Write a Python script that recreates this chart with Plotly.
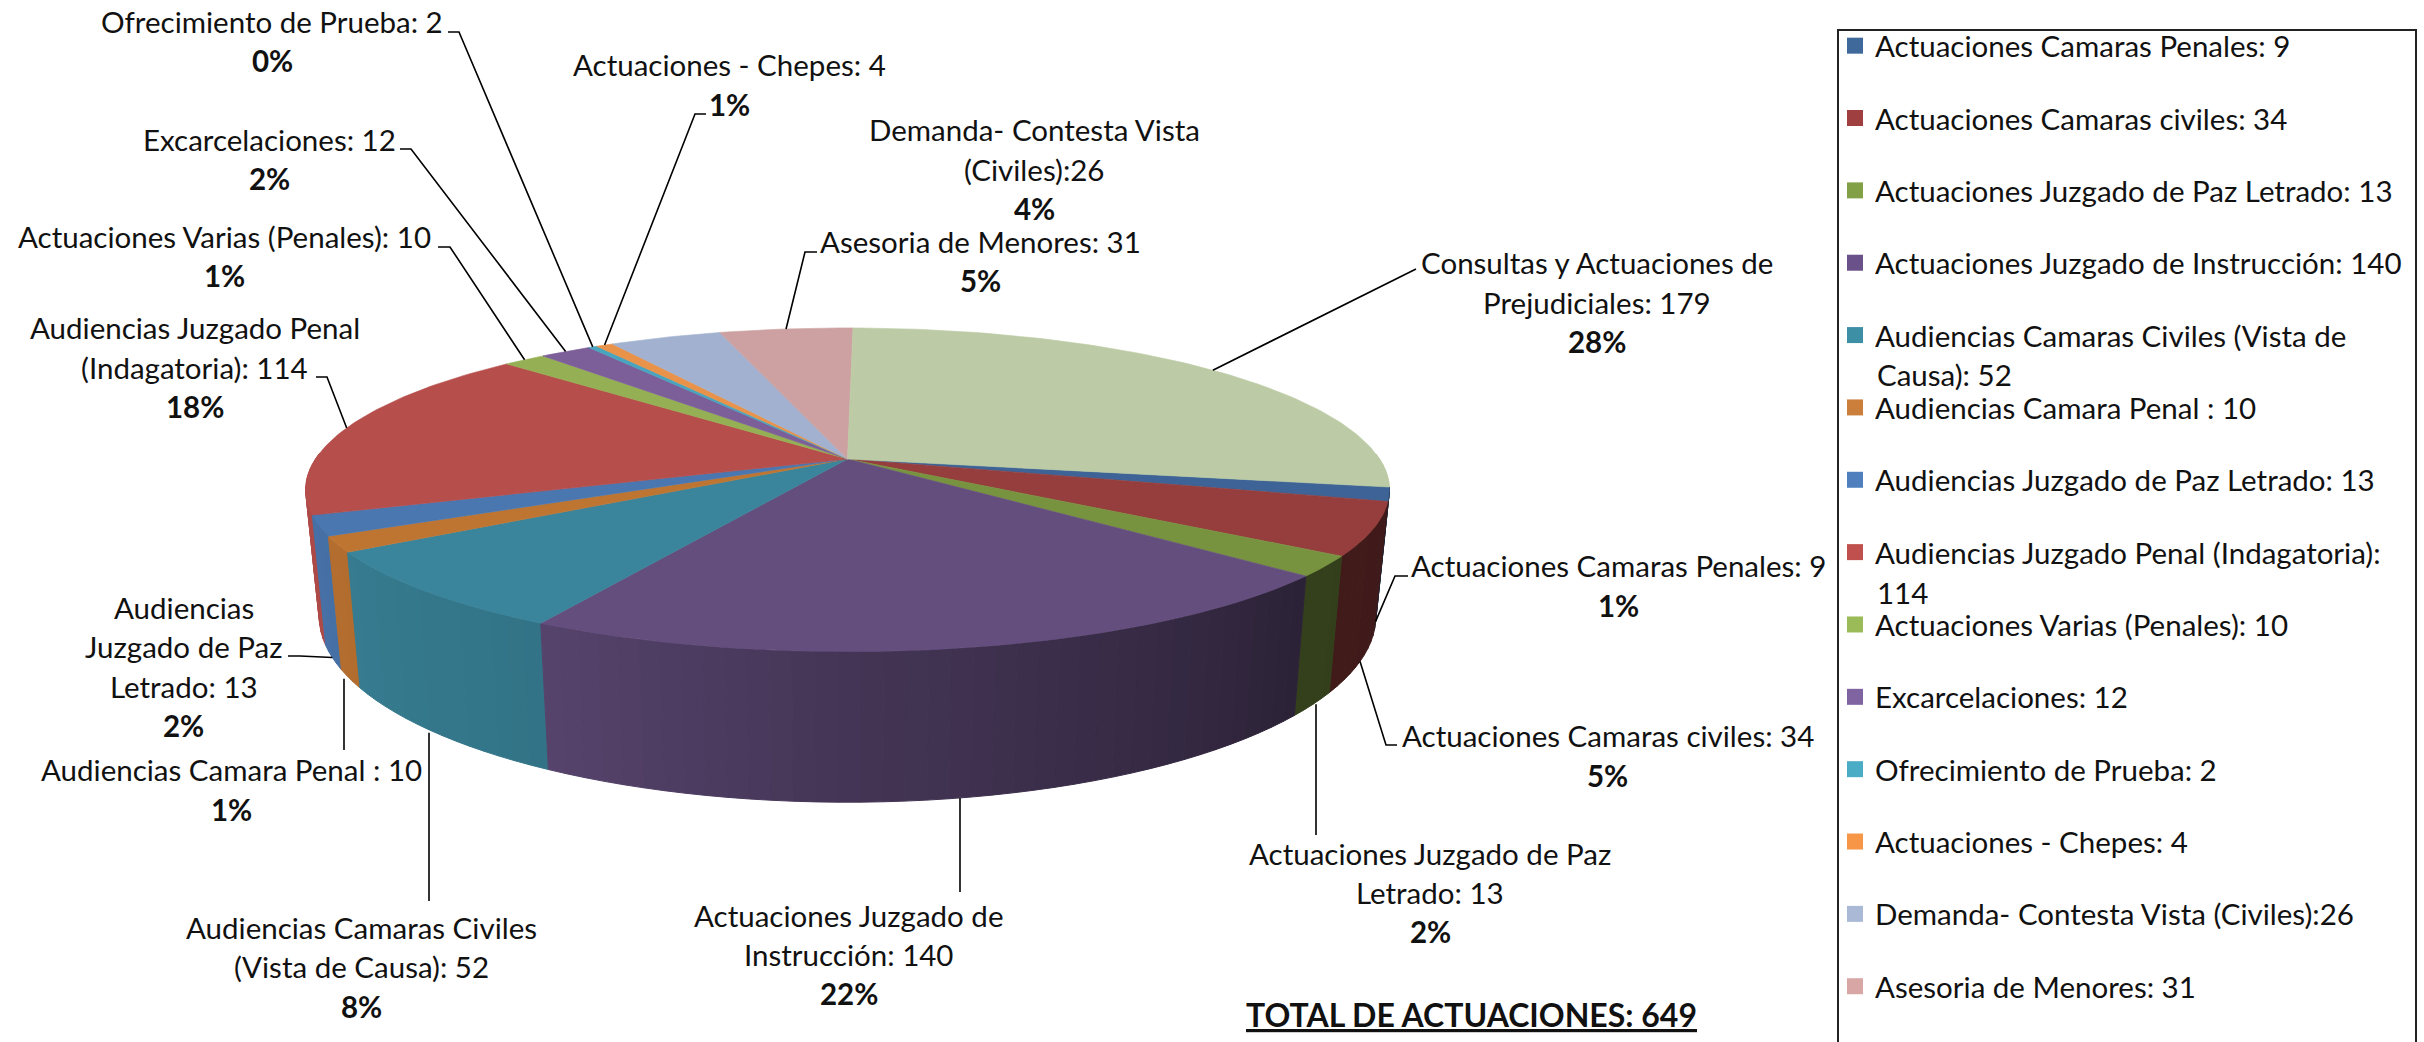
import numpy as np
import plotly.graph_objects as go

# ---------- data ----------
categories = ["Actuaciones Camaras Penales", "Actuaciones Camaras civiles", "Actuaciones Juzgado de Paz Letrado",
              "Actuaciones Juzgado de Instrucción", "Audiencias Camaras Civiles (Vista de Causa)", "Audiencias Camara Penal",
              "Audiencias Juzgado de Paz Letrado", "Audiencias Juzgado Penal (Indagatoria)", "Actuaciones Varias (Penales)",
              "Excarcelaciones", "Ofrecimiento de Prueba", "Actuaciones - Chepes", "Demanda- Contesta Vista (Civiles)",
              "Asesoria de Menores", "Consultas y Actuaciones de Prejudiciales"]
values = [9, 34, 13, 140, 52, 10, 13, 114, 10, 12, 2, 4, 26, 31, 179]
percents = ["1%", "5%", "2%", "22%", "8%", "1%", "2%", "18%", "1%", "2%", "0%", "1%", "4%", "5%", "28%"]
legend_labels = ["Actuaciones Camaras Penales: 9", "Actuaciones Camaras civiles: 34", "Actuaciones Juzgado de Paz Letrado: 13",
                 "Actuaciones Juzgado de Instrucción: 140", "Audiencias Camaras Civiles (Vista de",
                 "Audiencias Camara Penal : 10", "Audiencias Juzgado de Paz Letrado: 13",
                 "Audiencias Juzgado Penal (Indagatoria):", "Actuaciones Varias (Penales): 10", "Excarcelaciones: 12",
                 "Ofrecimiento de Prueba: 2", "Actuaciones - Chepes: 4", "Demanda- Contesta Vista (Civiles):26",
                 "Asesoria de Menores: 31"]
legend_wrapped = [("Causa): 52", 242.5), ("114", 383.5)]
total_label = "TOTAL DE ACTUACIONES: 649"

# ---------- styles ----------
top_colors = ["#3e6497", "#953e3d", "#789340", "#644e7e", "#3a859b", "#bf7532", "#4a77b0", "#b64e4b",
              "#95b054", "#7c5f98", "#47a5c0", "#e8924a", "#a1b1cf", "#cda1a1", "#bccba5"]
legend_colors = ["#3f689b", "#9f3f3f", "#82a046", "#6b5189", "#3d8fa6", "#cc7f3a", "#4f80bd", "#c0504d",
                 "#9bbb59", "#8064a2", "#4bacc6", "#f79646", "#a9b9d6", "#d7a6a5"]
FONT = "Lato"
FS = 29.5
TXT = "#111111"

# ---------- projection of the tilted disc (page pixels used as the axis units) ----------
W, H = 2424, 1042
X0, Y0, BX, AY, K, DEPTH, BOTTOM_SCALE = 847.5, 459.0, 532.0, 156.0, 0.19, 122.0, 0.975
START = -10.0


def project(t_deg, bottom=False):
    t = np.radians(t_deg)
    w = 1 + K * np.sin(t)
    x = BX * np.cos(t) / w
    y = Y0 - AY * np.sin(t) / w
    if bottom:
        return X0 + BOTTOM_SCALE * x, y + DEPTH / w
    return X0 + x, y


def shade(t_deg):
    return np.interp(t_deg, [-190, -150, -120, -90, -40, 10], [1.0, 0.93, 0.87, 0.68, 0.43, 0.42])


def darker(hex_color, f):
    r, g, b = (int(hex_color[i:i + 2], 16) for i in (1, 3, 5))
    return f"rgb({r * f:.0f},{g * f:.0f},{b * f:.0f})"


total = sum(values)
cum = np.concatenate([[0], np.cumsum(values)])
edges = START - cum / total * 360.0

fig = go.Figure()

# side wall strips, back to front
strips = []
for i, c in enumerate(top_colors):
    a, b = edges[i], edges[i + 1]
    ts = np.linspace(a, b, max(2, int((a - b) / 2) + 2))
    for t1, t2 in zip(ts[:-1], ts[1:]):
        tm = (t1 + t2) / 2
        if np.sin(np.radians(tm)) < 0.02:
            strips.append((tm, t1, t2, c))
strips.sort(key=lambda s: np.sin(np.radians(s[0])), reverse=True)
for tm, t1, t2, c in strips:
    arc = np.linspace(t1, t2, 4)
    xt, yt = project(arc)
    xb, yb = project(arc[::-1], bottom=True)
    col = darker(c, shade(tm))
    fig.add_trace(go.Scatter(x=np.r_[xt, xb, xt[0]], y=np.r_[yt, yb, yt[0]], mode="lines", fill="toself",
                             fillcolor=col, line=dict(color=col, width=1), hoverinfo="skip", showlegend=False))

# top faces
for i, c in enumerate(top_colors):
    arc = np.linspace(edges[i], edges[i + 1], max(3, int(edges[i] - edges[i + 1]) + 2))
    xt, yt = project(arc)
    fig.add_trace(go.Scatter(x=np.r_[X0, xt, X0], y=np.r_[Y0, yt, Y0], mode="lines", fill="toself",
                             fillcolor=c, line=dict(color=c, width=0.6), name=categories[i], text=f"{values[i]}",
                             hoverinfo="name+text", showlegend=False))

# leader lines: typed elbow near the label, far end on the slice's mid-angle
mids = (edges[:-1] + edges[1:]) / 2
leaders = [
    (0, [(1408, 576), (1395, 576)], True),
    (1, [(1397, 745), (1386, 745)], True),
    (2, [(1316, 835)], True),
    (3, [(960, 892)], True),
    (4, [(429, 901)], True),
    (5, [(344, 750)], True),
    (6, [(288, 656), (300, 656)], True),
    (7, [(316, 377), (327, 377)], False),
    (8, [(438, 247), (450, 247)], False),
    (9, [(400, 149), (411, 149)], False),
    (10, [(448, 32), (459, 32)], False),
    (11, [(706, 114), (695, 114)], False),
    (13, [(817, 252), (805, 252)], False),
    (14, [(1416, 269)], False),
]
for idx, pts, bottom in leaders:
    ex, ey = project(mids[idx], bottom=bottom)
    xs = [p[0] for p in pts] + [float(ex)]
    ys = [p[1] for p in pts] + [float(ey)]
    if len(pts) == 1 and bottom:
        xs[-1] = xs[0]
    fig.add_trace(go.Scatter(x=xs, y=ys, mode="lines", line=dict(color="#000000", width=1.6),
                             hoverinfo="skip", showlegend=False))

# legend entries, one group each so the gap between entries can be set
for i, lab in enumerate(legend_labels):
    fig.add_trace(go.Scatter(x=[None], y=[None], mode="markers", name=lab, legendgroup=f"g{i}",
                             marker=dict(symbol="square", size=18, color=legend_colors[i])))

# data labels: (centre x, first line y, text lines, percent) in page pixels
S = 1.546
label_layout = [
    (176, 14, ["Ofrecimiento de Prueba: 2"], 10),
    (472, 42, ["Actuaciones - Chepes: 4"], 11),
    (669, 84, ["Demanda- Contesta Vista", "(Civiles):26"], 12),
    (174, 90, ["Excarcelaciones: 12"], 9),
    (634, 156, ["Asesoria de Menores: 31"], 13),
    (145, 153, ["Actuaciones Varias (Penales): 10"], 8),
    (126, 212, ["Audiencias Juzgado Penal", "(Indagatoria): 114"], 7),
    (1033, 170, ["Consultas y Actuaciones de", "Prejudiciales: 179"], 14),
    (1047, 366, ["Actuaciones Camaras Penales: 9"], 0),
    (119, 393, ["Audiencias", "Juzgado de Paz", "Letrado: 13"], 6),
    (150, 498, ["Audiencias Camara Penal : 10"], 5),
    (1040, 476, ["Actuaciones Camaras civiles: 34"], 1),
    (925, 552, ["Actuaciones Juzgado de Paz", "Letrado: 13"], 2),
    (549, 592, ["Actuaciones Juzgado de", "Instrucción: 140"], 3),
    (234, 600, ["Audiencias Camaras Civiles", "(Vista de Causa): 52"], 4),
]
ann = []
for cx, y, lines, idx in label_layout:
    rows = lines + [f"<b>{percents[idx]}</b>"]
    for j, r in enumerate(rows):
        ann.append(dict(x=cx * S, y=(y + j * 25.4) * S, text=r, xref="x", yref="y", showarrow=False,
                        xanchor="center", yanchor="middle", font=dict(family=FONT, size=FS, color=TXT)))
ann.append(dict(x=952 * S, y=656 * S, text=f"<b><u>{total_label}</u></b>", xref="x", yref="y", showarrow=False,
                xanchor="center", yanchor="middle", font=dict(family=FONT, size=32, color=TXT)))
for txt, y in legend_wrapped:
    ann.append(dict(x=1213 * S, y=y * S, text=txt, xref="x", yref="y", showarrow=False,
                    xanchor="left", yanchor="middle", font=dict(family=FONT, size=FS, color=TXT)))

fig.update_layout(
    width=W, height=H, margin=dict(l=0, r=0, t=0, b=0),
    paper_bgcolor="white", plot_bgcolor="white",
    xaxis=dict(range=[0, W], visible=False, fixedrange=True),
    yaxis=dict(range=[H, 0], visible=False, fixedrange=True),
    annotations=ann,
    shapes=[dict(type="rect", xref="x", yref="y", x0=1838, x1=2416, y0=30, y1=1080,
                 line=dict(color="#222222", width=2), fillcolor="rgba(0,0,0,0)", layer="above")],
    legend=dict(x=1835 / W, y=1 - 20 / H, xanchor="left", yanchor="top", bgcolor="rgba(0,0,0,0)",
                font=dict(family=FONT, size=FS, color=TXT), borderwidth=0, itemsizing="trace",
                traceorder="grouped", tracegroupgap=31),
    showlegend=True,
)
fig.write_html("out.html", config={"displayModeBar": False},
               post_script="document.body.style.margin='0';document.documentElement.style.overflow='hidden';")
